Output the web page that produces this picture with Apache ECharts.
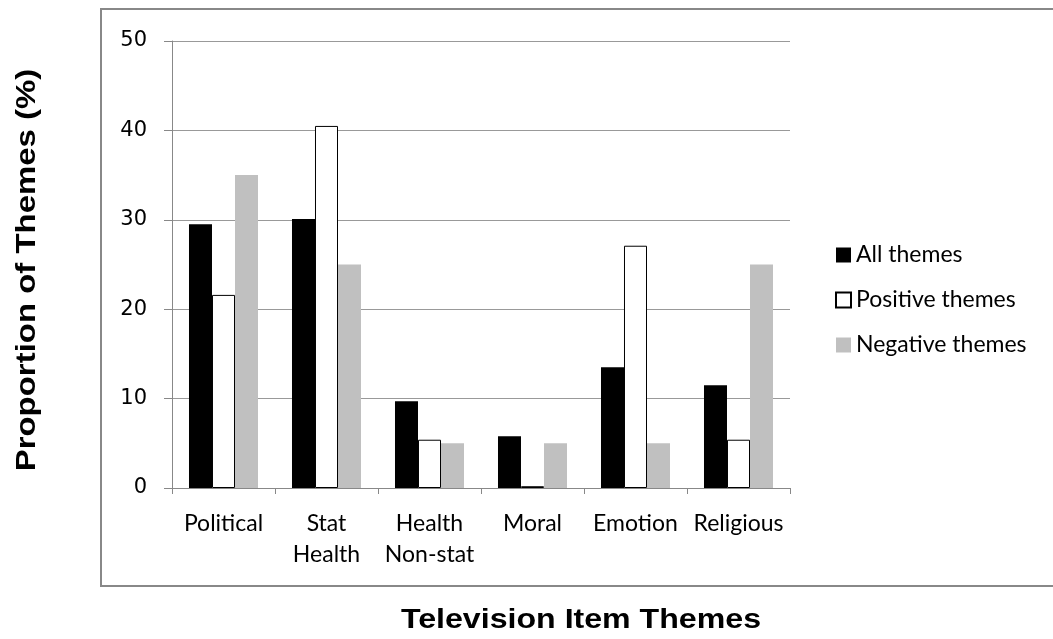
<!DOCTYPE html>
<html><head><meta charset="utf-8">
<script src="https://cdn.jsdelivr.net/npm/echarts@6/dist/echarts.min.js"></script>
<style>html,body{margin:0;padding:0;background:#fff}#c{width:1053px;height:639px}</style>
</head><body><div id="c"></div>
<script>
const categories = ['Political', 'Stat\nHealth', 'Health\nNon-stat', 'Moral', 'Emotion', 'Religious'];
const allThemes = [29.5, 30.1, 9.7, 5.8, 13.5, 11.5];
const positiveThemes = [21.6, 40.5, 5.4, 0.2, 27.1, 5.4];
const negativeThemes = [35, 25, 5, 5, 5, 25];
const yTicks = [0, 10, 20, 30, 40, 50];

const chart = echarts.init(document.getElementById('c'));
const lf = 'Lato, "Open Sans", sans-serif';
const tf = 'bold 27px "Liberation Sans", Arial, sans-serif';
chart.setOption({
  animation: false,
  backgroundColor: '#fff',
  graphic: [
    {type: 'rect', shape: {x: 101, y: 9, width: 1000, height: 577}, style: {fill: 'none', stroke: '#888', lineWidth: 2}, z: -1},
    {type: 'text', x: 581, y: 621, scaleX: 1.19, style: {text: 'Television Item Themes', font: tf, fill: '#000', align: 'center', verticalAlign: 'middle'}},
    {type: 'text', x: 28, y: 270, rotation: Math.PI / 2, scaleX: 1.22, style: {text: 'Proportion of Themes (%)', font: tf, fill: '#000', align: 'center', verticalAlign: 'middle'}}
  ],
  grid: {left: 172, right: 263, top: 41, bottom: 151},
  legend: {
    orient: 'vertical', left: 830, top: 238, itemGap: 21, itemWidth: 15, itemHeight: 15,
    icon: 'rect',
    textStyle: {fontFamily: lf, fontSize: 23, lineHeight: 24, color: '#000'},
    data: ['All themes', 'Positive themes', 'Negative themes']
  },
  xAxis: {
    type: 'category', data: categories,
    axisLine: {lineStyle: {color: '#888', width: 1}},
    axisTick: {show: true, length: 6, lineStyle: {color: '#888'}},
    axisLabel: {fontFamily: lf, fontSize: 23, color: '#000', margin: 20, lineHeight: 31, interval: 0}
  },
  yAxis: {
    type: 'value', min: 0, max: 50, interval: 10,
    axisLine: {show: true, lineStyle: {color: '#888'}},
    axisTick: {show: true, length: 8, lineStyle: {color: '#888'}},
    splitLine: {lineStyle: {color: '#999', width: 1}},
    axisLabel: {fontFamily: '"DejaVu Sans", sans-serif', fontSize: 21, color: '#000', margin: 25,
      formatter: v => yTicks.includes(v) ? String(v) : ''}
  },
  series: [
    {name: 'All themes', type: 'bar', data: allThemes, barGap: '0%', barCategoryGap: '33%',
     itemStyle: {color: '#000', borderColor: '#000', borderWidth: 0}},
    {name: 'Positive themes', type: 'bar', data: positiveThemes,
     itemStyle: {color: '#fff', borderColor: '#000', borderWidth: 1}},
    {name: 'Negative themes', type: 'bar', data: negativeThemes,
     itemStyle: {color: '#c0c0c0'}}
  ]
});
</script></body></html>
